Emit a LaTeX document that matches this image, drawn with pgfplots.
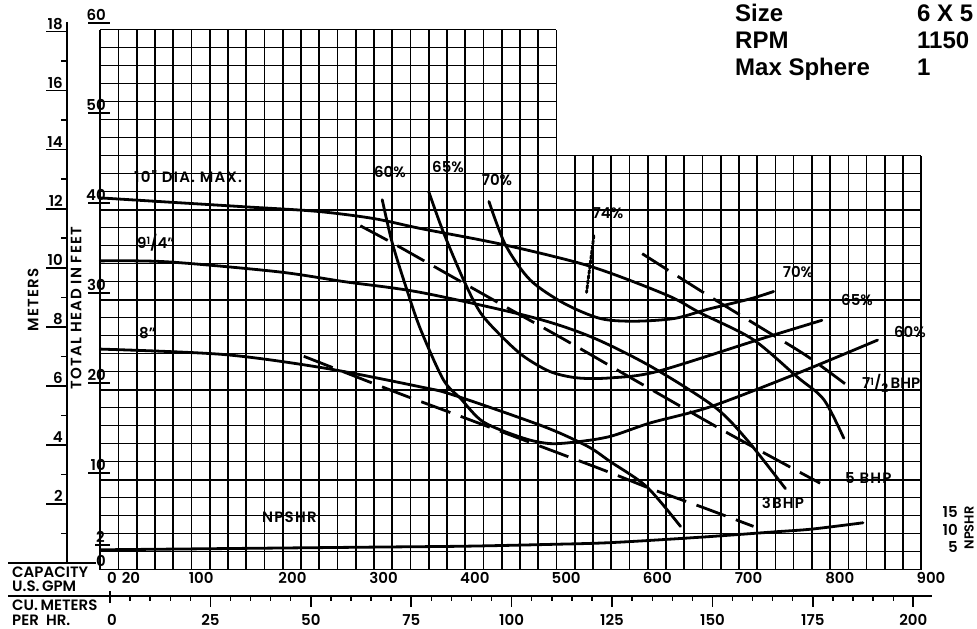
\documentclass[border=0pt]{standalone}
\usepackage{pgfplots}
\pgfplotsset{compat=1.18}
\usepackage{fontspec}
\setmainfont{Poppins SemiBold}
\newfontfamily\wide{Poppins SemiBold}[LetterSpace=8]
\newfontfamily\hdr{Liberation Sans}
\newcommand\lt{\fontsize{15}{15}\selectfont}

\begin{document}
\begin{tikzpicture}[x=1pt,y=1pt]
\useasboundingbox (0,0) rectangle (977,629);
\begin{axis}[
  at={(110,66)}, anchor=south west,
  scale only axis, width=821pt, height=540pt,
  xmin=0, xmax=900, ymin=0, ymax=60,
  axis lines=none, clip=false,
  every axis plot/.append style={black, no marks, line width=2.8pt, line cap=round, line join=round},
]
% grid, with the empty upper right corner
\pgfplotsinvokeforeach{0,20,...,500}{\draw[line width=1.7pt] (axis cs:#1,0) -- (axis cs:#1,60);}
\pgfplotsinvokeforeach{520,540,...,900}{\draw[line width=1.7pt] (axis cs:#1,0) -- (axis cs:#1,46);}
\pgfplotsinvokeforeach{0,2,...,46}{\draw[line width=1.7pt] (axis cs:0,#1) -- (axis cs:900,#1);}
\pgfplotsinvokeforeach{48,50,...,60}{\draw[line width=1.7pt] (axis cs:0,#1) -- (axis cs:500,#1);}
\pgfplotsinvokeforeach{10,20,30,40}{\draw[line width=2pt] (axis cs:0,#1) -- (axis cs:900,#1);}

% head curves
\addplot[smooth, tension=0.5] coordinates {
  (0,41.3) (80,40.8) (160,40.3) (238,39.8) (300,39.0) (351,37.9) (442,36.1)
  (537,33.7) (621,30.5) (658,28.5) (715,25.6) (764,21.4) (793,18.9) (815,14.6)};
\addplot[smooth, tension=0.5] coordinates {
  (0,34.3) (73,34.2) (194,33.1) (267,32.0) (351,30.8) (471,28.1) (537,25.9)
  (603,22.6) (673,18.1) (709,14.4) (751,9.0)};
\addplot[smooth, tension=0.5] coordinates {
  (0,24.5) (135,23.9) (245,22.4) (351,20.3) (387,19.4) (486,15.9) (534,13.7)
  (559,12.0) (599,9.2) (636,4.8)};
% NPSHR
\addplot[smooth, tension=0.5] coordinates {
  (0,2.2) (100,2.3) (200,2.4) (300,2.5) (400,2.6) (493,2.8) (560,3.0)
  (658,3.6) (740,4.2) (780,4.5) (836,5.2)};
% efficiency curves
\addplot[smooth, tension=0.5] coordinates {
  (309,41.1) (320,36.3) (336,31.1) (351,26.7) (376,21.1) (395,19.0) (420,16.4)
  (464,14.6) (493,14.0) (523,14.2) (559,14.8) (603,16.3) (669,18.1) (764,21.8) (852,25.5)};
\addplot[smooth, tension=0.5] coordinates {
  (360,42.0) (376,37.5) (399,32.0) (417,28.5) (440,25.9) (464,23.7) (493,22.0)
  (523,21.3) (559,21.3) (610,22.0) (720,25.5) (791,27.7)};
\addplot[smooth, tension=0.5] coordinates {
  (426,40.9) (444,36.1) (471,32.2) (508,29.6) (548,27.9) (585,27.6) (629,27.9)
  (665,28.9) (713,30.1) (738,30.9)};
\addplot coordinates {(541,37.1) (533,30.8)};
% BHP lines
\addplot[smooth, tension=0.5, line cap=butt, dash pattern=on 31pt off 11pt] coordinates {
  (223,23.7) (271,21.8) (332,19.4) (393,17.1) (548,11.2) (603,9.0) (658,7.0) (716,4.8)};
\addplot[smooth, tension=0.5, line cap=butt, dash pattern=on 31pt off 11pt] coordinates {
  (285,38.2) (320,36.3) (362,33.9) (446,29.1) (508,25.6) (592,20.7) (689,15.1) (789,9.6)};
\addplot[smooth, tension=0.5, line cap=butt, dash pattern=on 31pt off 11pt] coordinates {
  (594,35.1) (639,32.2) (672,30.1) (727,26.7) (775,23.7) (817,20.6)};
\end{axis}

% curve labels
\begin{scope}[every node/.style={font=\lt, inner sep=0pt}]
\node[anchor=west,font=\wide\lt] at (134,{629-177}) {10\symbol{34} DIA. MAX.};
\node[anchor=west] at (137,{629-243}) {9\raisebox{4pt}{\fontsize{10}{10}\selectfont 1}/4\symbol{34}};
\node[anchor=west] at (139,{629-333}) {8\symbol{34}};
\node[anchor=west,font=\wide\lt] at (262,{629-517}) {NPSHR};
\node at (390,{629-172}) {60\%};
\node at (448,{629-167}) {65\%};
\node at (497,{629-180}) {70\%};
\node at (608,{629-213}) {74\%};
\node at (798,{629-272}) {70\%};
\node at (857,{629-300}) {65\%};
\node at (910,{629-332}) {60\%};
\node[anchor=west] at (862,{629-383}) {7\raisebox{3pt}{\fontsize{10}{10}\selectfont 1}/\raisebox{-4pt}{\fontsize{12}{12}\selectfont 2}\,BHP};
\node[anchor=west,font=\wide\lt] at (845,{629-478}) {5 BHP};
\node[font=\wide\lt] at (783,{629-503}) {3BHP};

% feet scale
\foreach \f/\t in {60/60,50/50,40/40,30/30,20/20,10/10}{
  \draw[line width=1.7pt] (88,{66+9*\f}) -- (110,{66+9*\f});
  \node[anchor=south east] at (106,{66+9*\f+2}) {\t};
}
\draw[line width=1.7pt] (95,84) -- (110,84);
\node[anchor=south east] at (105,86) {2};
\node at (101,68) {0};

% meters scale
\draw[line width=1.7pt] (67,66) -- (67,607);
\foreach \m in {1,3,...,17}{\draw[line width=1.4pt] (61,{66+29.527*\m}) -- (67,{66+29.527*\m});}
\foreach \m in {2,4,...,18}{
  \draw[line width=1.7pt] (46,{66+29.527*\m}) -- (67,{66+29.527*\m});
  \node[anchor=south east] at (63,{66+29.527*\m+2}) {\m};
}
\node[rotate=90,font=\wide\lt] at (33,{629-300}) {METERS};
\node[rotate=90,font=\wide\lt] at (76,{629-308}) {TOTAL HEAD IN FEET};

% capacity scales
\draw[line width=1.7pt] (8,66) -- (96,66);
\draw[line width=1.7pt] (8,33) -- (932,33);
\node[anchor=west] at (12,{629-572}) {CAPACITY};
\node[anchor=west] at (12,{629-586}) {U.S.\,GPM};
\node[anchor=west] at (12,{629-605}) {CU.\,METERS};
\node[anchor=west] at (12,{629-620}) {PER\ \ HR.};
\node at (112,{629-578}) {0};
\node at (131,{629-578}) {20};
\foreach \g in {100,200,...,900}{\node at ({110+0.91222*\g},{629-578}) {\g};}
\foreach \q in {5,10,...,200}{\draw[line width=1.4pt] ({110+4.01638*\q},33) -- ({110+4.01638*\q},28);}
\foreach \q in {25,50,...,200}{\draw[line width=1.7pt] ({110+4.01638*\q},33) -- ({110+4.01638*\q},22);}
\draw[line width=1.7pt] (110,38) -- (110,26);
\node at (112,{629-620}) {0};
\foreach \q in {25,50,...,200}{\node at ({110+4.01638*\q},{629-620}) {\q};}

% NPSHR scale on the right
\node[anchor=east] at (958,{629-512}) {15};
\node[anchor=east] at (958,{629-530}) {10};
\node[anchor=east] at (958,{629-547}) {5};
\node[rotate=90,font=\fontsize{13}{13}\selectfont] at (969,{629-528}) {NPSHR};
\end{scope}

% header
\begin{scope}[every node/.style={font=\hdr\bfseries\fontsize{24}{24}\selectfont, inner sep=0pt, anchor=base west}]
\node at (735,{629-22}) {Size};
\node at (735,{629-49}) {RPM};
\node at (735,{629-76}) {Max Sphere};
\node at (917,{629-22}) {6 X 5};
\node at (917,{629-49}) {1150};
\node at (917,{629-76}) {1};
\end{scope}
\end{tikzpicture}
\end{document}
